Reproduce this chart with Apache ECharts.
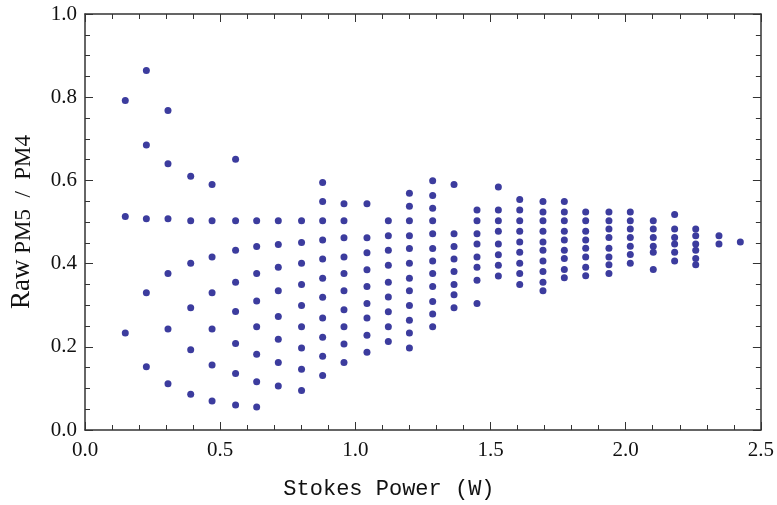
<!DOCTYPE html>
<html>
<head>
<meta charset="utf-8">
<script src="https://cdn.jsdelivr.net/npm/echarts@6/dist/echarts.min.js"></script>
<style>html,body{margin:0;padding:0;background:#fff;}#chart{width:777px;height:505px;}</style>
</head>
<body>
<div id="chart"></div>
<script>
// Column x positions (Stokes Power, W)
const powers = [0.149, 0.227, 0.307, 0.391, 0.470, 0.557, 0.635, 0.715, 0.801, 0.879,
  0.958, 1.043, 1.122, 1.200, 1.286, 1.365, 1.450, 1.529, 1.608, 1.694,
  1.773, 1.852, 1.938, 2.017, 2.102, 2.181, 2.259, 2.345, 2.424];
// Raw PM5/PM4 ratio values for each column
const ratios = [
  [0.792, 0.513, 0.233],
  [0.864, 0.685, 0.508, 0.330, 0.152],
  [0.768, 0.640, 0.508, 0.376, 0.243, 0.111],
  [0.610, 0.503, 0.401, 0.294, 0.193, 0.086],
  [0.590, 0.503, 0.416, 0.330, 0.243, 0.156, 0.070],
  [0.651, 0.503, 0.432, 0.355, 0.285, 0.208, 0.136, 0.060],
  [0.503, 0.441, 0.376, 0.310, 0.248, 0.182, 0.116, 0.055],
  [0.503, 0.446, 0.391, 0.335, 0.273, 0.218, 0.162, 0.106],
  [0.503, 0.451, 0.401, 0.350, 0.299, 0.248, 0.197, 0.146, 0.095],
  [0.595, 0.549, 0.503, 0.457, 0.411, 0.365, 0.319, 0.269, 0.223, 0.177, 0.131],
  [0.544, 0.503, 0.462, 0.416, 0.376, 0.335, 0.289, 0.248, 0.207, 0.162],
  [0.544, 0.462, 0.426, 0.385, 0.345, 0.304, 0.269, 0.228, 0.187],
  [0.503, 0.467, 0.432, 0.396, 0.355, 0.320, 0.284, 0.248, 0.213],
  [0.569, 0.538, 0.503, 0.467, 0.436, 0.401, 0.365, 0.335, 0.299, 0.264, 0.233, 0.197],
  [0.599, 0.564, 0.533, 0.503, 0.472, 0.436, 0.406, 0.376, 0.345, 0.309, 0.279, 0.248],
  [0.590, 0.472, 0.441, 0.411, 0.381, 0.350, 0.325, 0.294],
  [0.529, 0.503, 0.472, 0.447, 0.416, 0.391, 0.360, 0.304],
  [0.584, 0.529, 0.503, 0.478, 0.447, 0.421, 0.396, 0.370],
  [0.554, 0.529, 0.503, 0.478, 0.452, 0.427, 0.401, 0.376, 0.350],
  [0.549, 0.524, 0.503, 0.478, 0.452, 0.432, 0.406, 0.381, 0.355, 0.335],
  [0.549, 0.524, 0.503, 0.478, 0.457, 0.432, 0.412, 0.386, 0.366],
  [0.524, 0.503, 0.478, 0.457, 0.437, 0.416, 0.391, 0.371],
  [0.524, 0.503, 0.483, 0.463, 0.437, 0.416, 0.397, 0.376],
  [0.524, 0.503, 0.483, 0.463, 0.442, 0.422, 0.401],
  [0.503, 0.483, 0.463, 0.442, 0.427, 0.386],
  [0.518, 0.483, 0.463, 0.447, 0.427, 0.406],
  [0.483, 0.467, 0.447, 0.432, 0.412, 0.397],
  [0.467, 0.447],
  [0.452]
];
const xTicks = [0.0, 0.5, 1.0, 1.5, 2.0, 2.5];
const yTicks = [0.0, 0.2, 0.4, 0.6, 0.8, 1.0];

const points = [];
powers.forEach((p, i) => ratios[i].forEach(r => points.push([p, r])));

const axisColor = '#333';
const serif = '"Liberation Serif", "DejaVu Serif", serif';
function baseAxis(extra) {
  return Object.assign({
    type: 'value',
    axisLine: { show: true, onZero: false, lineStyle: { color: axisColor, width: 1.5 } },
    axisTick: { show: true, inside: true, length: 8, lineStyle: { color: axisColor, width: 1 } },
    minorTick: { show: true, length: 5, lineStyle: { color: axisColor, width: 1 } },
    splitLine: { show: false },
    minorSplitLine: { show: false }
  }, extra);
}

const chart = echarts.init(document.getElementById('chart'), null, { renderer: 'canvas' });
chart.setOption({
  animation: false,
  backgroundColor: '#fff',
  grid: { left: 84, right: 13, top: 14, bottom: 72, containLabel: false },
  xAxis: [
    baseAxis({
      position: 'bottom', min: xTicks[0], max: xTicks[xTicks.length - 1], interval: 0.5,
      minorTick: { show: true, splitNumber: 5, length: 5, lineStyle: { color: axisColor, width: 1 } },
      axisLabel: { color: '#111', fontFamily: serif, fontSize: 21, margin: 10,
        formatter: v => v.toFixed(1) },
      name: 'Stokes Power (W)', nameLocation: 'middle', nameGap: 48,
      nameTextStyle: { fontFamily: '"Liberation Mono", "DejaVu Sans Mono", monospace', fontSize: 22,
        color: '#111', padding: [0, 68, 0, 0] }
    }),
    baseAxis({
      position: 'top', min: xTicks[0], max: xTicks[xTicks.length - 1], interval: 0.5,
      minorTick: { show: true, splitNumber: 5, length: 5, lineStyle: { color: axisColor, width: 1 } },
      axisLabel: { show: false }
    })
  ],
  yAxis: [
    baseAxis({
      position: 'left', min: yTicks[0], max: yTicks[yTicks.length - 1], interval: 0.2,
      minorTick: { show: true, splitNumber: 4, length: 5, lineStyle: { color: axisColor, width: 1 } },
      axisLabel: { color: '#111', fontFamily: serif, fontSize: 21, margin: 8,
        formatter: v => v.toFixed(1) },
      name: '{a|Raw}{b| PM5  /  PM4}', nameLocation: 'middle', nameGap: 50, nameRotate: 90,
      nameTextStyle: {
        color: '#111', fontFamily: serif,
        rich: {
          a: { fontSize: 27, fontFamily: serif, color: '#111', verticalAlign: 'bottom' },
          b: { fontSize: 23, fontFamily: serif, color: '#111', verticalAlign: 'bottom' }
        }
      }
    }),
    baseAxis({
      position: 'right', min: yTicks[0], max: yTicks[yTicks.length - 1], interval: 0.2,
      minorTick: { show: true, splitNumber: 4, length: 5, lineStyle: { color: axisColor, width: 1 } },
      axisLabel: { show: false }
    })
  ],
  series: [{
    type: 'scatter',
    xAxisIndex: 0, yAxisIndex: 0,
    data: points,
    symbol: 'circle',
    symbolSize: 7,
    itemStyle: { color: '#3c3c9e', opacity: 1 }
  }]
});
</script>
</body>
</html>
